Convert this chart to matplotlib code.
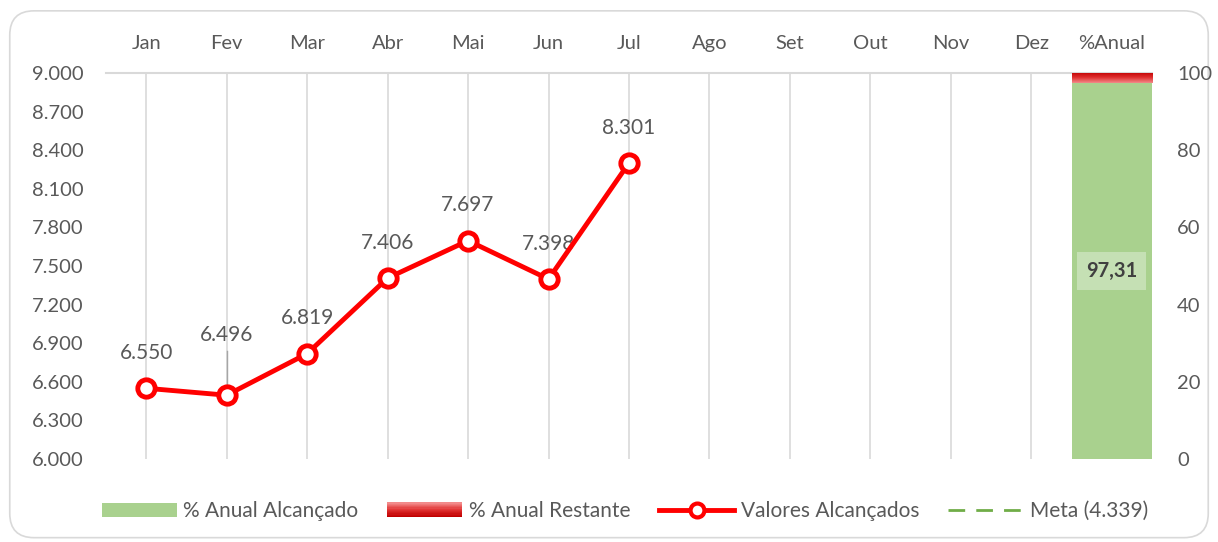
import numpy as np
import matplotlib.pyplot as plt
from matplotlib.patches import Patch, Rectangle, FancyBboxPatch
from matplotlib.lines import Line2D
from matplotlib.legend_handler import HandlerBase
from matplotlib.colors import LinearSegmentedColormap
from matplotlib.ticker import FuncFormatter

plt.rcParams['font.family'] = ['Lato', 'DejaVu Sans']

# data
months = ['Jan', 'Fev', 'Mar', 'Abr', 'Mai', 'Jun', 'Jul', 'Ago', 'Set', 'Out', 'Nov', 'Dez', '%Anual']
valores = [6550, 6496, 6819, 7406, 7697, 7398, 8301]
pct_alcancado = 97.31
pct_restante = 100 - pct_alcancado
meta = 4339

GRAY_TXT = '#595959'
GRID = '#D9D9D9'
GREEN = '#A9D18E'
RED = '#FF0000'
red_cmap = LinearSegmentedColormap.from_list('redgrad', ['#F28A8A', '#E03030', '#C00000'])


class GradientHandler(HandlerBase):
    """legend patch with vertical red gradient"""
    def create_artists(self, legend, orig_handle, xdescent, ydescent, width, height, fontsize, trans):
        n = 12
        arts = []
        for i in range(n):
            c = red_cmap(1 - i / (n - 1))
            r = Rectangle((-xdescent, -ydescent + height * i / n), width, height / n + 0.3,
                          facecolor=c, edgecolor='none', transform=trans)
            arts.append(r)
        return arts


def fmt_thousands(v, pos):
    return f'{int(v):,}'.replace(',', '.')


fig = plt.figure(figsize=(12.18, 5.42), dpi=100)
border = FancyBboxPatch((0.008, 0.008), 0.984, 0.972, boxstyle='round,pad=0,rounding_size=0.02',
                        transform=fig.transFigure, facecolor='none', edgecolor=GRID, lw=1.2,
                        mutation_aspect=1218 / 542, zorder=-1)
fig.patches.append(border)

ax = fig.add_axes([0.087, 0.1531, 0.8588, 0.7122])
ax2 = ax.twinx()

x = np.arange(len(months))
ax.set_xlim(-0.5, len(months) - 0.5)
ax.set_ylim(6000, 9000)
ax.set_yticks(np.arange(6000, 9001, 300))
ax.yaxis.set_major_formatter(FuncFormatter(fmt_thousands))
ax.xaxis.tick_top()
ax.set_xticks(x)
ax.set_xticklabels(months)
ax.tick_params(axis='both', length=0, labelsize=14.5, labelcolor=GRAY_TXT)
ax.tick_params(axis='x', pad=15)
ax.tick_params(axis='y', pad=16)
for s in ['left', 'right', 'bottom']:
    ax.spines[s].set_visible(False)
ax.spines['top'].set_color(GRID)
ax.spines['top'].set_linewidth(1.5)
for xi in x[:-1]:
    ax.axvline(xi, color=GRID, lw=1.2, zorder=0)

# monthly values
mx = x[:len(valores)]
ax.plot(mx, valores, color=RED, lw=3.5, marker='o', markersize=12.5, markerfacecolor='white',
        markeredgecolor=RED, markeredgewidth=3.5, zorder=5)
ax.axhline(meta, color='#70AD47', ls='--', lw=2)
for i, v in enumerate(valores):
    off = 275
    if i == 1:
        off = 470
        ax.plot([i, i], [v + 80, v + 340], color='#A6A6A6', lw=1, zorder=4)
    ax.text(i, v + off, fmt_thousands(v, None), ha='center', va='center', fontsize=15, color=GRAY_TXT)

# annual percentage bar
ax2.bar(x[-1], pct_alcancado, width=1.0, color=GREEN, zorder=2)
grad = np.linspace(0, 1, 50).reshape(-1, 1)
ax2.imshow(grad, cmap=red_cmap, aspect='auto', origin='lower',
           extent=[x[-1] - 0.5, x[-1] + 0.5, pct_alcancado, 100], zorder=2)
ax2.set_xlim(-0.5, len(months) - 0.5)
ax2.set_ylim(0, 100)
ax2.set_yticks(np.arange(0, 101, 20))
ax2.tick_params(axis='y', length=0, labelsize=14.5, labelcolor=GRAY_TXT, pad=18)
for s in ax2.spines.values():
    s.set_visible(False)
ax2.text(x[-1], pct_alcancado / 2, f'{pct_alcancado:.2f}'.replace('.', ','), ha='center', va='center',
         fontsize=14.5, fontweight='bold', color='#404040',
         bbox=dict(boxstyle='square,pad=0.45', facecolor='#C5E0B4', edgecolor='none'))

handles = [
    Patch(facecolor=GREEN, edgecolor='none'),
    Patch(facecolor='#E03030', edgecolor='none'),
    Line2D([], [], color=RED, lw=3.5, marker='o', markersize=10, markerfacecolor='white',
           markeredgewidth=3),
    Line2D([], [], color='#70AD47', lw=2, ls=(0, (6, 4))),
]
labels = ['% Anual Alcançado', '% Anual Restante', 'Valores Alcançados', 'Meta (4.339)']
leg = fig.legend(handles, labels, loc='center', bbox_to_anchor=(0.513, 0.057), ncol=4, frameon=False,
                 fontsize=15, labelcolor=GRAY_TXT, handlelength=3.6, handleheight=0.7,
                 columnspacing=1.4, handletextpad=0.3,
                 handler_map={handles[1]: GradientHandler()})

fig.savefig('out.png', dpi=100)
